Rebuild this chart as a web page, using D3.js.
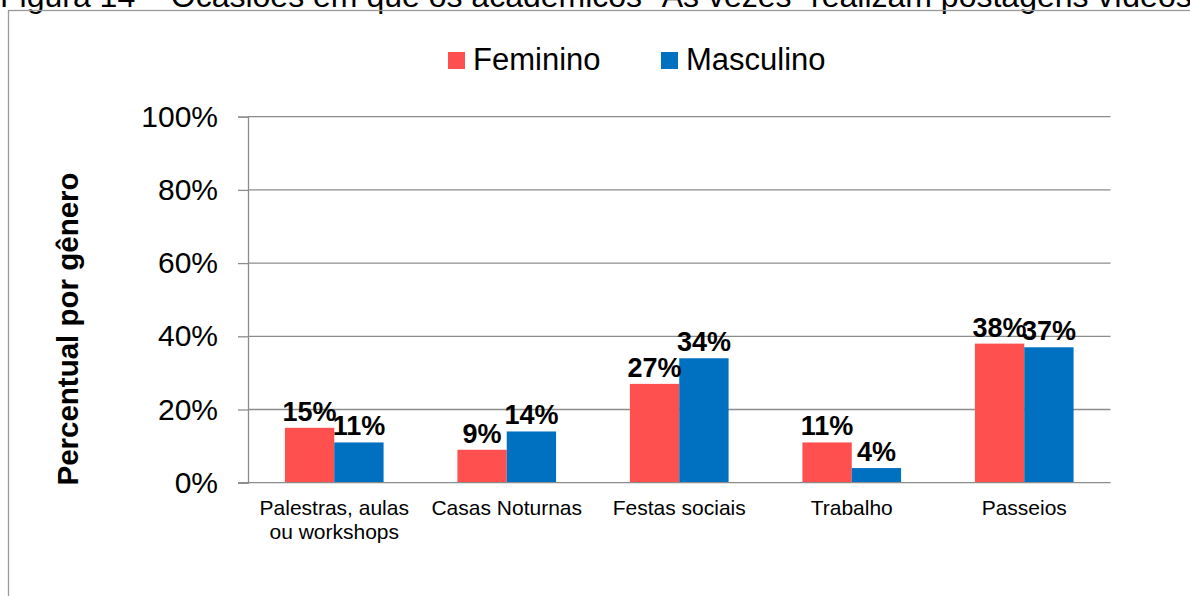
<!DOCTYPE html>
<html>
<head>
<meta charset="utf-8">
<script src="https://cdn.jsdelivr.net/npm/d3@7"></script>
<style>
  html, body { margin: 0; padding: 0; background: #fff; }
  svg { display: block; font-family: "Liberation Sans", Arial, sans-serif; }
</style>
</head>
<body>
<svg id="chart" width="1190" height="596"></svg>
<script>
// ---- data ----
const titleText = "Figura 14 – Ocasiões em que os acadêmicos “Às vezes” realizam postagens vídeos";
const categories = ["Palestras, aulas\nou workshops", "Casas Noturnas", "Festas sociais", "Trabalho", "Passeios"];
const seriesNames = ["Feminino", "Masculino"];
const feminino = [15, 9, 27, 11, 38];
const masculino = [11, 14, 34, 4, 37];
const yTicks = [0, 20, 40, 60, 80, 100];
const yTitle = "Percentual por gênero";
const colors = ["#FF5050", "#0070C0"];

const values = [feminino, masculino];
const rows = categories.map((c, i) => ({ cat: c, vals: values.map((v, s) => ({ s, v: v[i] })) }));

const svg = d3.select("#chart");

// title (clipped at top, as in the reference)
svg.append("text")
  .attr("x", 0).attr("y", 6.5)
  .attr("font-size", 32)
  .attr("fill", "#000")
  .text(titleText);

// frame
svg.append("rect")
  .attr("x", 8.5).attr("y", 10.5)
  .attr("width", 1200).attr("height", 700)
  .attr("fill", "none").attr("stroke", "#9a9a9a").attr("stroke-width", 1.3);

const pLeft = 248, pRight = 1110.5, pTop = 116.7, pBottom = 482.7;

const y = d3.scaleLinear().domain([0, 100]).range([pBottom, pTop]);
const x0 = d3.scaleBand().domain(categories).range([pLeft, pRight]).paddingInner(0.428).paddingOuter(0.214);
const x1 = d3.scaleBand().domain([0, 1]).range([0, x0.bandwidth()]);

// gridlines
svg.append("g").selectAll("line").data(yTicks.filter(t => t > 0)).join("line")
  .attr("x1", pLeft).attr("x2", pRight)
  .attr("y1", d => y(d)).attr("y2", d => y(d))
  .attr("stroke", "#8c8c8c").attr("stroke-width", 1.3);

// y axis
const yAxis = d3.axisLeft(y).tickValues(yTicks).tickFormat(d => d + "%").tickSize(10).tickPadding(20);
const gy = svg.append("g").attr("transform", `translate(${pLeft},0)`).call(yAxis);
gy.select(".domain").attr("stroke", "#8c8c8c").attr("stroke-width", 1.3);
gy.selectAll(".tick line").attr("stroke", "#8c8c8c").attr("stroke-width", 1.3);
gy.selectAll(".tick text").attr("font-size", 30).attr("fill", "#000")
  .attr("font-family", "Liberation Sans, Arial, sans-serif");

// bars
const groups = svg.append("g").selectAll("g").data(rows).join("g")
  .attr("transform", d => `translate(${x0(d.cat)},0)`);
groups.selectAll("rect").data(d => d.vals).join("rect")
  .attr("x", d => x1(d.s)).attr("width", x1.bandwidth())
  .attr("y", d => y(d.v)).attr("height", d => pBottom - y(d.v))
  .attr("fill", d => colors[d.s]);

// x axis baseline
const xAxis = d3.axisBottom(x0).tickSize(0).tickFormat("");
const gx = svg.append("g").attr("transform", `translate(0,${pBottom})`).call(xAxis);
gx.select(".domain").attr("d", `M${pLeft - 10},0H${pRight}`).attr("stroke", "#8c8c8c").attr("stroke-width", 1.3);

// category labels
const catLabels = svg.append("g").selectAll("text").data(categories).join("text")
  .attr("x", d => x0(d) + x0.bandwidth() / 2)
  .attr("y", 515)
  .attr("text-anchor", "middle")
  .attr("font-size", 21)
  .attr("fill", "#000");
catLabels.selectAll("tspan").data(d => d.split("\n")).join("tspan")
  .attr("x", function () { return d3.select(this.parentNode).attr("x"); })
  .attr("dy", (d, i) => i === 0 ? 0 : 24)
  .text(d => d);

// value labels
groups.selectAll("text.val").data(d => d.vals).join("text")
  .attr("class", "val")
  .attr("x", d => x1(d.s) + x1.bandwidth() / 2)
  .attr("y", d => y(d.v) - 7)
  .attr("text-anchor", "middle")
  .attr("font-size", 27).attr("font-weight", "bold")
  .attr("fill", "#000")
  .text(d => d.v + "%");

// y title
svg.append("text")
  .attr("transform", "translate(78,329) rotate(-90)")
  .attr("text-anchor", "middle")
  .attr("font-size", 29.5).attr("font-weight", "bold")
  .attr("fill", "#000")
  .text(yTitle);

// legend
const legendX = [448, 661];
const leg = svg.append("g").selectAll("g").data(seriesNames).join("g")
  .attr("transform", (d, i) => `translate(${legendX[i]},0)`);
leg.append("rect").attr("x", 0).attr("y", 52).attr("width", 17).attr("height", 17)
  .attr("fill", (d, i) => colors[i]);
leg.append("text").attr("x", 25).attr("y", 70)
  .attr("font-size", 31).attr("fill", "#000")
  .text(d => d);
</script>
</body>
</html>
